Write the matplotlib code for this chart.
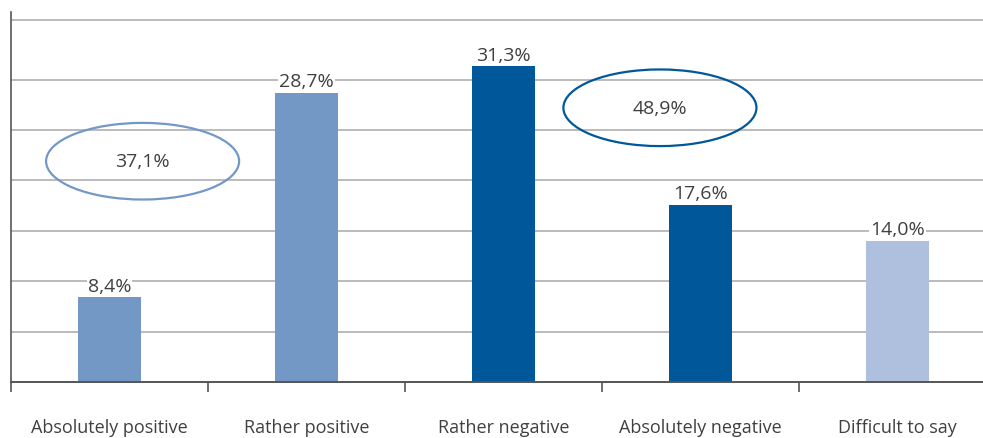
import matplotlib.pyplot as plt
from matplotlib.patches import Ellipse

plt.rcParams['font.family'] = ['Open Sans', 'DejaVu Sans']

categories = ['Absolutely positive', 'Rather positive', 'Rather negative',
              'Absolutely negative', 'Difficult to say']
values = [8.4, 28.7, 31.3, 17.6, 14.0]
bar_colors = ['#7498c6', '#7498c6', '#00589b', '#00589b', '#afc0de']
group_labels = ['37,1%', '48,9%']
group_colors = ['#7498c6', '#00589b']

W, H = 983, 439
fig = plt.figure(figsize=(W / 100, H / 100), dpi=100)
ax = fig.add_axes([11 / W, 56 / H, 985 / W, 370 / H])

x = list(range(len(categories)))
ax.bar(x, values, width=0.315, color=bar_colors, zorder=3)
ax.set_xlim(-0.5, len(categories) - 0.5)
ax.set_ylim(0, 36.7)

# gridlines
for g in [5, 10, 15, 20, 25, 30, 35.9]:
    ax.axhline(g, color='#bbbbbb', lw=1.4, zorder=1)

txt = '#404040'
for xi, v in zip(x, values):
    ax.text(xi, v + 0.25, f'{v:.1f}%'.replace('.', ','), ha='center', va='bottom',
            fontsize=14, color=txt, zorder=4,
            bbox=dict(facecolor='white', edgecolor='none', pad=0.8))

# ellipses grouping positive / negative answers
ell_pos = [(0.168, 21.9), (2.794, 27.2)]
for (cx, cy), lab, c in zip(ell_pos, group_labels, group_colors):
    ax.add_patch(Ellipse((cx, cy), 0.98, 7.6, fill=False, edgecolor=c, lw=1.6, zorder=4))
    ax.text(cx, cy, lab, ha='center', va='center', fontsize=14, color=txt, zorder=5)

for s in ['top', 'right']:
    ax.spines[s].set_visible(False)
ax.spines['left'].set_color('#555555')
ax.spines['bottom'].set_color('#555555')
ax.spines['left'].set_linewidth(1.2)
ax.spines['bottom'].set_linewidth(1.4)
ax.spines['bottom'].set_zorder(5)

ax.set_yticks([])
ax.set_xticks(x)
ax.set_xticklabels(categories, fontsize=13, color=txt)
ax.tick_params(axis='x', which='major', length=0, pad=26)
ax.set_xticks([i + 0.5 for i in x[:-1]] + [-0.5], minor=True)
ax.tick_params(axis='x', which='minor', length=7, color='#555555', width=1.2)

fig.savefig('out.png', dpi=100)
